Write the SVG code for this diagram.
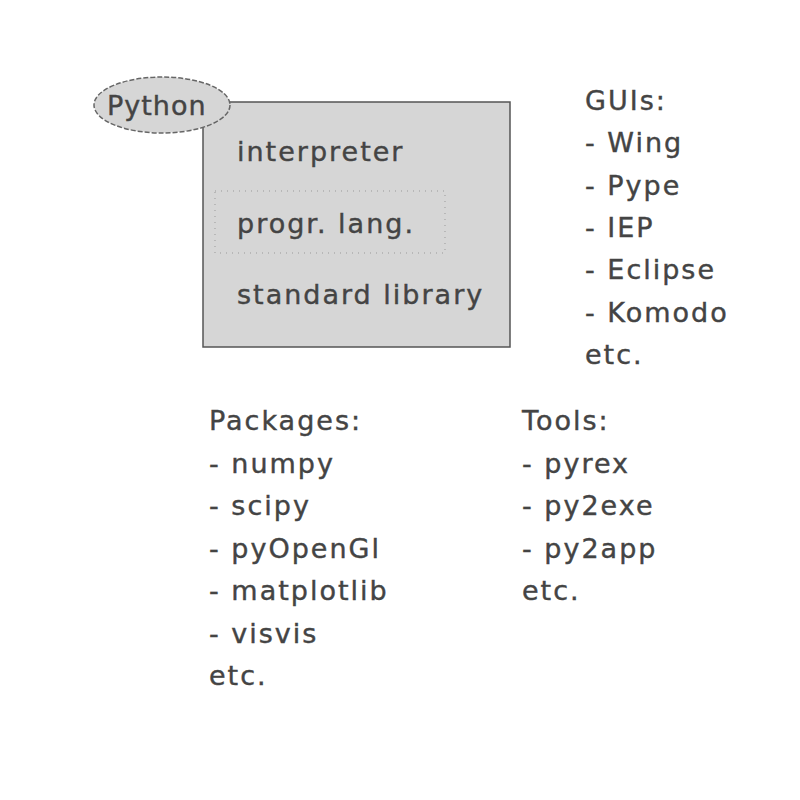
<svg xmlns="http://www.w3.org/2000/svg" width="800" height="800" viewBox="0 0 800 800">
<style>
text{font-family:"DejaVu Sans",sans-serif;font-size:27px;letter-spacing:2px;fill:#444;stroke:#444;stroke-width:0.4}
</style>
<rect width="800" height="800" fill="#fff"/>
<g id="python-box">
<rect x="203" y="102" width="307" height="245" fill="#d6d6d6" stroke="#555" stroke-width="1.5"/>
<rect x="215" y="191" width="230" height="62" fill="none" stroke="#999" stroke-width="1" stroke-dasharray="1,5"/>
<text x="237" y="161">interpreter</text>
<text x="237" y="233">progr. lang.</text>
<text x="237" y="304">standard library</text>
</g>
<g id="python-label">
<ellipse cx="162" cy="105" rx="68" ry="28" fill="#d6d6d6" stroke="#666" stroke-width="1.5" stroke-dasharray="5,2"/>
<text x="107" y="115" style="letter-spacing:1px">Python</text>
</g>
<g id="guis">
<text x="585" y="110">GUIs:</text>
<text x="585" y="152">- Wing</text>
<text x="585" y="195">- Pype</text>
<text x="585" y="237">- IEP</text>
<text x="585" y="279">- Eclipse</text>
<text x="585" y="322">- Komodo</text>
<text x="585" y="364">etc.</text>
</g>
<g id="packages">
<text x="209" y="430">Packages:</text>
<text x="209" y="473">- numpy</text>
<text x="209" y="515">- scipy</text>
<text x="209" y="558">- pyOpenGl</text>
<text x="209" y="600">- matplotlib</text>
<text x="209" y="643">- visvis</text>
<text x="209" y="685">etc.</text>
</g>
<g id="tools">
<text x="522" y="430">Tools:</text>
<text x="522" y="473">- pyrex</text>
<text x="522" y="515">- py2exe</text>
<text x="522" y="558">- py2app</text>
<text x="522" y="600">etc.</text>
</g>
<g id="connectors"/>
</svg>
